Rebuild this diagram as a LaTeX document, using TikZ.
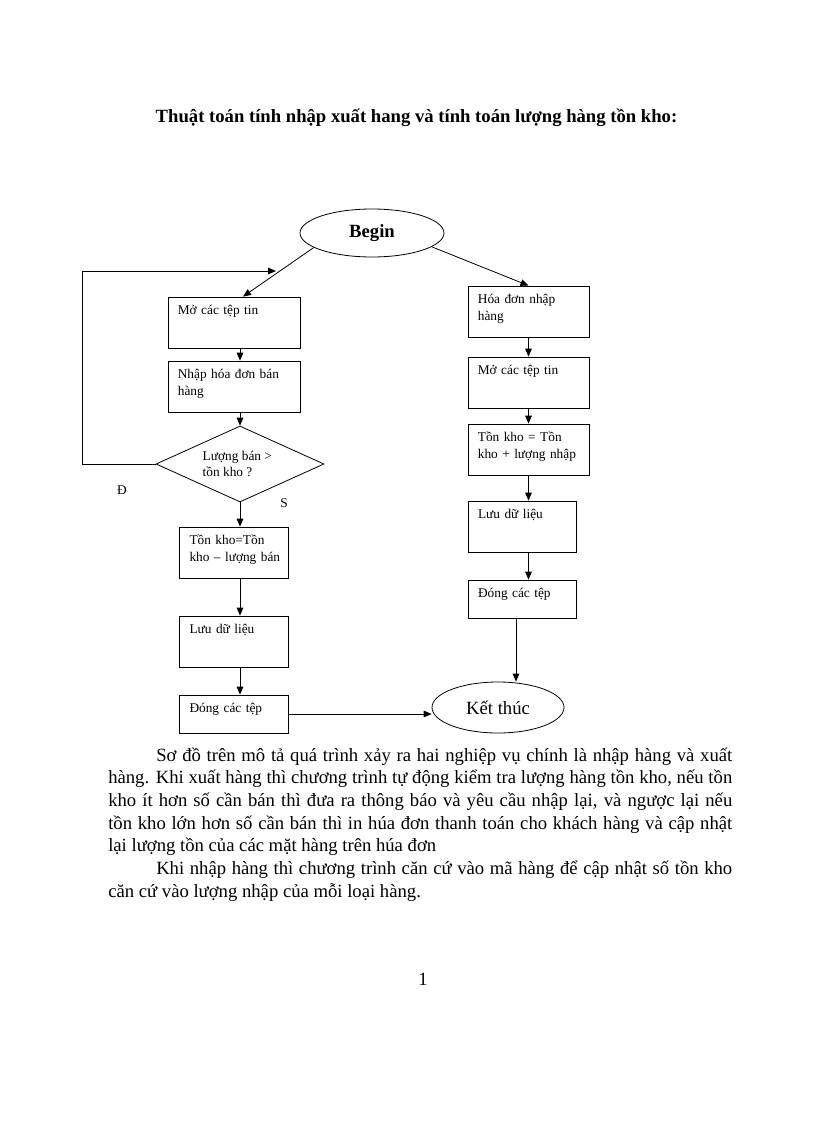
\documentclass[tikz,border=0pt]{standalone}
\usepackage{fontspec}
\setmainfont{Liberation Serif}
\usetikzlibrary{shapes.geometric,arrows.meta}

\tikzset{
    stepbox/.style={draw,rectangle,inner sep=0,line width=0.6pt},
    boxtext/.style={anchor=base west,inner sep=0,text width=100pt,align=left,xshift=7.5pt,yshift=-13.5pt,font=\boxfont},
    ovalnode/.style={draw,ellipse,inner sep=0,line width=0.6pt},
    flow/.style={-{Triangle[length=6pt,width=5pt]},line width=0.6pt}
}

\begin{document}
\begin{tikzpicture}[x=0.75pt,y=-0.75pt]
    \pgfmathsetmacro{\boxheight}{38.25}
    \pgfmathsetmacro{\lowboxheight}{28.5}
    \pgfmathsetmacro{\wideboxwidth}{99}
    \pgfmathsetmacro{\midboxwidth}{90.75}
    \pgfmathsetmacro{\narrowboxwidth}{81.5}
    \providecommand{\titlefont}{\fontsize{14pt}{17pt}\selectfont\bfseries}
    \providecommand{\parafont}{\fontsize{14pt}{17pt}\selectfont}
    \providecommand{\ovalfont}{\fontsize{14pt}{17pt}\selectfont}
    \providecommand{\boxfont}{\fontsize{10pt}{12.5pt}\selectfont}
    \fill[white] (0,0) rectangle (816,1123);
    \useasboundingbox (0,0) rectangle (816,1123);
    \node[anchor=base,font=\titlefont] (title) at (416.5,123) {Thuật toán tính nhập xuất hang và tính toán lượng hàng tồn kho:};
    % ovals
    \node[ovalnode,minimum width=108pt,minimum height=36pt,font=\ovalfont\bfseries] (bg) at (372,233) {Begin};
    \node[ovalnode,minimum width=99pt,minimum height=38.25pt,font=\ovalfont] (ke) at (498,707.5) {Kết thúc};
    % left column
    \node[stepbox,minimum width=\wideboxwidth pt,minimum height=\boxheight pt,label={[boxtext]north west:{Mở các tệp tin}}] (b1) at (234,322.5) {};
    \node[stepbox,minimum width=\wideboxwidth pt,minimum height=\boxheight pt,label={[boxtext]north west:{Nhập hóa đơn bán\\hàng}}] (b2) at (234,386.5) {};
    \node[draw,diamond,aspect=2.2,inner sep=0,line width=0.6pt,minimum width=126pt,minimum height=57pt,label={[align=left,font=\boxfont,xshift=-2pt]center:{Lượng bán >\\tồn kho ?}}] (d) at (240,464) {};
    \node[stepbox,minimum width=\narrowboxwidth pt,minimum height=\boxheight pt,label={[boxtext]north west:{Tồn kho=Tồn\\kho – lượng bán}}] (b3) at (234,552.5) {};
    \node[stepbox,minimum width=\narrowboxwidth pt,minimum height=\boxheight pt,label={[boxtext]north west:{Lưu dữ liệu}}] (b4) at (234,641.5) {};
    \node[stepbox,minimum width=\narrowboxwidth pt,minimum height=\lowboxheight pt,label={[boxtext]north west:{Đóng các tệp}}] (b5) at (234,714) {};
    \node[font=\boxfont] (dung) at (122,490) {Đ};
    \node[font=\boxfont] (sai) at (284,503) {S};
    % right column
    \node[stepbox,minimum width=\midboxwidth pt,minimum height=\boxheight pt,label={[boxtext]north west:{Hóa đơn nhập\\hàng}}] (r1) at (528.5,311.5) {};
    \node[stepbox,minimum width=\midboxwidth pt,minimum height=\boxheight pt,label={[boxtext]north west:{Mở các tệp tin}}] (r2) at (528.5,382.5) {};
    \node[stepbox,minimum width=\midboxwidth pt,minimum height=\boxheight pt,label={[boxtext]north west:{Tồn kho = Tồn\\kho + lượng nhập}}] (r3) at (528.5,449.5) {};
    \node[stepbox,minimum width=\narrowboxwidth pt,minimum height=\boxheight pt,label={[boxtext]north west:{Lưu dữ liệu}}] (r4) at (522.5,526.5) {};
    \node[stepbox,minimum width=\narrowboxwidth pt,minimum height=\lowboxheight pt,label={[boxtext]north west:{Đóng các tệp}}] (r5) at (522.5,599) {};
    % connectors
    \coordinate (join) at (276,271);
    \draw[flow] (bg.194) -- ([xshift=6.75pt]b1.north);
    \draw[flow] (bg.-13) -- (r1.north);
    \draw[flow] (b1.south -| d.center) -- (b2.north -| d.center);
    \draw[flow] (b2.south -| d.center) -- (d.north);
    \draw[flow] (d.west) -- ++(-73,0) |- (join);
    \draw[flow] (d.south) -- (b3.north -| d.center);
    \draw[flow] (b3.south -| d.center) -- (b4.north -| d.center);
    \draw[flow] (b4.south -| d.center) -- (b5.north -| d.center);
    \draw[flow] (b5.east) -- (b5.east -| ke.west);
    \draw[flow] (r1) -- (r2);
    \draw[flow] (r2) -- (r3);
    \draw[flow] (r3.south) -- (r3.south |- r4.north);
    \draw[flow] (r4.south -| r3.south) -- (r5.north -| r3.south);
    \draw[flow] ([xshift=-4.875pt]r5.south) -- ([xshift=-4.875pt]r5.south |- ke.north);
    % text below
    \node[anchor=base west,inner sep=0,font=\parafont] (para) at (108,761) {\parbox[t]{468pt}{\hspace*{36pt}Sơ đồ trên mô tả quá trình xảy ra hai nghiệp vụ chính là nhập hàng và xuất\linebreak
    hàng. Khi xuất hàng thì chương trình tự động kiểm tra lượng hàng tồn kho, nếu tồn\linebreak
    kho ít hơn số cần bán thì đưa ra thông báo và yêu cầu nhập lại, và ngược lại nếu\linebreak
    tồn kho lớn hơn số cần bán thì in húa đơn thanh toán cho khách hàng và cập nhật\linebreak
    lại lượng tồn của các mặt hàng trên húa đơn\par
    \hspace*{36pt}Khi nhập hàng thì chương trình căn cứ vào mã hàng để cập nhật số tồn kho\linebreak
    căn cứ vào lượng nhập của mỗi loại hàng.}};
    \node[anchor=base,font=\parafont] (pagenum) at (423,985) {1};
\end{tikzpicture}
\end{document}
